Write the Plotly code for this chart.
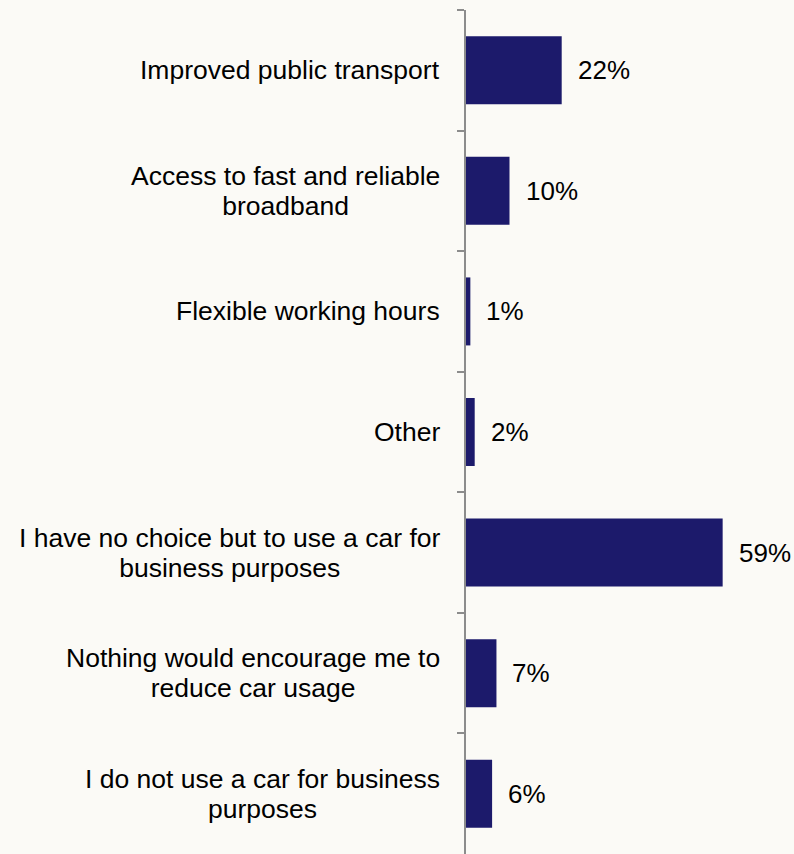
import plotly.graph_objects as go

categories = [
    "Improved public transport",
    "Access to fast and reliable<br>broadband",
    "Flexible working hours",
    "Other",
    "I have no choice but to use a car for<br>business purposes",
    "Nothing would encourage me to<br>reduce car usage",
    "I do not use a car for business<br>purposes",
]
values = [22, 10, 1, 2, 59, 7, 6]
value_labels = ["22%", "10%", "1%", "2%", "59%", "7%", "6%"]

FONT = "Liberation Sans, Arial, sans-serif"
BG = "#fbfaf6"
BAR = "#1c1a6b"

fig = go.Figure()
fig.add_trace(go.Bar(
    x=values, y=categories, orientation="h",
    marker=dict(color=BAR, line=dict(width=0)),
    hoverinfo="skip",
))

for cat, v, lab in zip(categories, values, value_labels):
    fig.add_annotation(x=v, y=cat, xref="x", yref="y", text=lab,
                       showarrow=False, xanchor="left", yanchor="middle",
                       xshift=14, font=dict(family=FONT, size=26, color="#000000"))
    styled = "<br>".join('<span style="font-size:26.5px">%s</span>' % s
                         for s in cat.split("<br>"))
    fig.add_annotation(x=0, y=cat, xref="paper", yref="y", text=styled,
                       showarrow=False, xanchor="right", yanchor="middle",
                       align="center", xshift=-24,
                       font=dict(family=FONT, size=23, color="#000000"))

fig.update_layout(
    width=794, height=854,
    margin=dict(l=466, r=0, t=10, b=0),
    paper_bgcolor=BG, plot_bgcolor=BG,
    showlegend=False, bargap=0.436,
    font=dict(family=FONT, size=26, color="#000000"),
)
fig.update_xaxes(range=[0, 75.4], visible=False, showgrid=False, zeroline=False)
fig.update_yaxes(autorange="reversed", showticklabels=False, showgrid=False,
                 zeroline=False, showline=True, linecolor="#8c8c8c", linewidth=2,
                 ticks="outside", tickson="boundaries", ticklen=7,
                 tickcolor="#8c8c8c", tickwidth=2)

fig.write_html("out.html", config={"displayModeBar": False},
               post_script="document.body.style.margin='0';document.body.style.background='%s';" % BG)
